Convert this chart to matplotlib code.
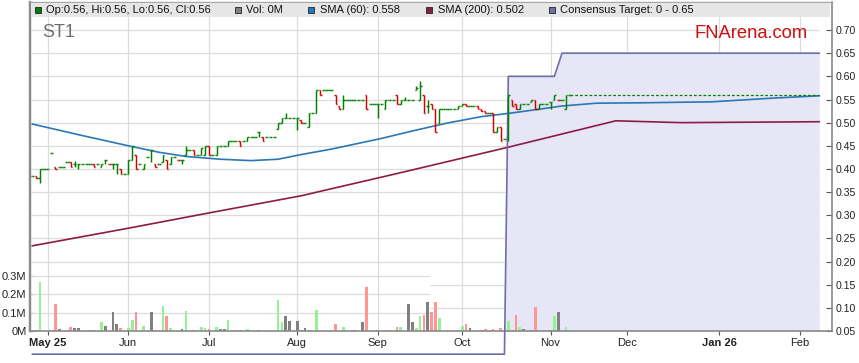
import numpy as np
import pandas as pd
import matplotlib
matplotlib.use('Agg')
import matplotlib.pyplot as plt
from matplotlib.collections import LineCollection
from matplotlib.patches import Rectangle

plt.rcParams['font.family'] = ['Liberation Sans', 'DejaVu Sans']

# ------------------------------------------------------------------ data
ticker = 'ST1'
brand = 'FNArena.com'
first_bar = '2025-04-28'
last_bar = '2025-11-10'
axis_origin = '2025-05-01'
projection_end = '2026-02-09'

opens = [
    .385, .385, .38, .40, .40, .435, .405, .405, .405, .415,
    .415, .41, .41, .41, .41, .41, .41, .41, .405, .42,
    .41, .41, .41, .40, .39, .39, .42, .43, .41, .40,
    .425, .44, .41, .41, .415, .42, .41, .425, .42, .42,
    .43, .44, .44, .43, .43, .43, .45, .43, .43, .45,
    .45, .45, .46, .46, .46, .46, .46, .47, .47, .48,
    .47, .47, .47, .47, .486, .50, .51, .51, .51, .51,
    .505, .50, .49, .52, .52, .57, .57, .57, .57, .56,
    .535, .53, .55, .55, .55, .55, .55, .56, .54, .54,
    .54, .54, .53, .55, .55, .56, .54, .55, .55, .55,
    .57, .55, .56, .535, .54, .53, .50, .53, .53, .53,
    .53, .53, .535, .54, .535, .535, .535, .53, .525, .52,
    .52, .48, .49, .465, .47, .55, .54, .53, .54, .54,
    .545, .55, .53, .54, .54, .545, .55, .55, .55, .53, .56,
]
highs = [
    .385, .385, .40, .40, .40, .435, .405, .405, .405, .415,
    .415, .418, .41, .41, .41, .41, .41, .41, .41, .42,
    .41, .41, .41, .40, .39, .42, .45, .43, .41, .41,
    .425, .44, .41, .41, .43, .42, .425, .425, .42, .42,
    .45, .44, .44, .43, .445, .45, .45, .43, .45, .45,
    .45, .46, .46, .46, .46, .46, .47, .47, .47, .48,
    .47, .47, .47, .47, .50, .51, .52, .51, .51, .51,
    .505, .50, .52, .52, .57, .57, .57, .57, .57, .56,
    .535, .56, .55, .55, .55, .55, .55, .56, .54, .54,
    .54, .54, .55, .55, .55, .56, .55, .555, .55, .55,
    .58, .59, .56, .55, .54, .53, .53, .53, .53, .53,
    .53, .535, .54, .54, .535, .535, .535, .53, .525, .52,
    .52, .49, .49, .465, .56, .55, .54, .54, .54, .54,
    .55, .55, .54, .54, .54, .545, .56, .55, .55, .56, .56,
]
lows = [
    .385, .38, .37, .40, .40, .435, .40, .405, .405, .415,
    .405, .405, .40, .41, .41, .41, .405, .41, .405, .41,
    .41, .40, .39, .39, .39, .39, .42, .40, .41, .40,
    .425, .415, .405, .41, .415, .40, .41, .425, .42, .41,
    .43, .44, .43, .43, .43, .43, .43, .43, .43, .45,
    .45, .45, .46, .46, .45, .46, .46, .47, .47, .47,
    .46, .47, .47, .47, .486, .50, .51, .51, .51, .485,
    .50, .50, .49, .52, .52, .56, .57, .57, .57, .54,
    .53, .53, .55, .55, .55, .55, .55, .53, .54, .54,
    .51, .54, .53, .55, .55, .54, .54, .55, .55, .55,
    .57, .55, .52, .52, .53, .48, .50, .53, .53, .53,
    .53, .53, .535, .535, .535, .535, .53, .525, .52, .52,
    .48, .48, .46, .465, .46, .535, .53, .53, .54, .54,
    .545, .53, .53, .54, .54, .53, .55, .55, .55, .53, .56,
]
closes = [
    .385, .38, .40, .40, .40, .435, .40, .405, .405, .415,
    .405, .41, .41, .41, .41, .41, .405, .41, .41, .42,
    .41, .41, .41, .39, .39, .42, .45, .40, .41, .41,
    .425, .44, .405, .41, .43, .40, .425, .425, .42, .42,
    .44, .44, .43, .43, .445, .45, .43, .43, .45, .45,
    .45, .46, .46, .46, .45, .46, .47, .47, .47, .48,
    .46, .47, .47, .47, .50, .51, .51, .51, .51, .51,
    .50, .50, .52, .52, .57, .56, .57, .57, .57, .54,
    .53, .55, .55, .55, .55, .55, .55, .53, .54, .54,
    .54, .54, .55, .55, .55, .54, .55, .55, .55, .55,
    .575, .58, .52, .535, .53, .48, .53, .53, .53, .53,
    .53, .535, .54, .535, .535, .535, .53, .525, .52, .52,
    .48, .49, .46, .465, .56, .535, .53, .54, .54, .54,
    .55, .53, .54, .54, .54, .545, .56, .55, .55, .56, .56,
]
volumes_m = [
    0, .005, .27, 0, 0, 0, .15, .01, 0, 0,
    .02, .015, .015, 0, 0, .005, .005, 0, .05, .03,
    0, .105, .037, .015, 0, .015, .058, .104, 0, .03,
    0, .104, .005, 0, .136, .08, .015, 0, 0, .01,
    .107, 0, .005, 0, .02, .015, .01, 0, .024, .01,
    .01, .058, 0, 0, .005, 0, .01, 0, 0, .005,
    0, 0, 0, 0, .167, .05, .08, .053, 0, .053,
    .005, .015, .005, 0, .113, 0, 0, 0, 0, .037,
    0, .02, 0, 0, .005, 0, .05, .238, 0, 0,
    .005, 0, .005, 0, 0, .02, .02, 0, .145, .05,
    .015, .08, .085, .16, .104, .16, .07, 0, 0, 0,
    0, .005, .025, .04, .015, 0, 0, .005, .01, 0,
    .01, 0, .015, 0, .053, .005, .085, .02, .01, 0,
    .005, .13, 0, 0, 0, .005, .08, .104, 0, .02, 0,
]

sma60_dates = ['2025-04-28', '2025-05-14', '2025-06-02', '2025-06-12', '2025-06-23',
               '2025-07-04', '2025-07-16', '2025-07-25', '2025-08-04', '2025-08-14',
               '2025-09-02', '2025-09-12', '2025-09-25', '2025-10-08', '2025-10-20',
               '2025-10-29', '2025-11-06', '2025-11-19', '2025-12-08', '2025-12-31',
               '2026-01-22', '2026-02-09']
sma60_vals = [0.497, 0.474, 0.450, 0.436, 0.427,
              0.421, 0.418, 0.421, 0.431, 0.443,
              0.466, 0.482, 0.499, 0.513, 0.521,
              0.529, 0.536, 0.542, 0.543, 0.545,
              0.553, 0.558]

sma200_dates = ['2025-04-28', '2025-06-02', '2025-07-01', '2025-08-04', '2025-09-09',
                '2025-10-17', '2025-11-26', '2025-12-19', '2026-02-09']
sma200_vals = [0.234, 0.272, 0.305, 0.342, 0.392,
               0.447, 0.504, 0.500, 0.502]

target_dates = ['2025-04-28', '2025-10-16', '2025-10-17', '2025-11-04', '2025-11-06', '2026-02-09']
target_vals = [0.0, 0.0, 0.60, 0.60, 0.65, 0.65]

month_tick_dates = ['2025-05-02', '2025-06-02', '2025-07-01', '2025-08-01', '2025-09-01',
                    '2025-10-01', '2025-11-03', '2025-12-01', '2026-01-02', '2026-02-02']
month_tick_labels = ['May 25', 'Jun', 'Jul', 'Aug', 'Sep', 'Oct', 'Nov', 'Dec', 'Jan 26', 'Feb']
bold_tick_labels = ['May 25', 'Jan 26']

price_ticks = [0.05, 0.10, 0.15, 0.20, 0.25, 0.30, 0.35, 0.40,
               0.45, 0.50, 0.55, 0.60, 0.65, 0.70]
volume_ticks = [0.0, 0.1, 0.2, 0.3]
volume_tick_labels = ['0M', '0.1M', '0.2M', '0.3M']

# ------------------------------------------------------------------ style
C_UP, C_DN = '#008000', '#d40000'
C_VUP, C_VDN, C_VFLAT = '#94f294', '#ff9696', '#808080'
C_SMA60, C_SMA200 = '#2a78b8', '#8c1c48'
C_TGT_LINE, C_TGT_FILL = '#6e6ea8', '#e6e6f6'
C_GRID = '#dcdcdc'
C_SPINE = '#8a8a8a'

W, H = 859, 363
price_floor = 0.05
px_per_price = 23.15 / 0.05          # vertical pixel scale of the price axis
vol_scale = 183.3 / px_per_price     # price units per million shares


def tday(d):
    return np.busday_count(np.datetime64(axis_origin),
                           np.asarray(d, dtype='datetime64[D]'))


def to_price(v):
    return price_floor + np.asarray(v) * vol_scale


def to_vol(p):
    return (np.asarray(p) - price_floor) / vol_scale


def fr(x0, y0, x1, y1):
    return [x0 / W, 1 - y1 / H, (x1 - x0) / W, (y1 - y0) / H]


bar_dates = pd.bdate_range(first_bar, last_bar).values.astype('datetime64[D]')
x = tday(bar_dates)
O, Hh, L, C, V = map(np.asarray, (opens, highs, lows, closes, volumes_m))
assert len(x) == len(O) == len(Hh) == len(L) == len(C) == len(V)

x_end = tday(projection_end)

fig = plt.figure(figsize=(W / 100, H / 100), dpi=100)
fig.patch.set_facecolor('white')

ax_left, ax_top, ax_right, ax_bottom = 30, 2, 832, 331
ax = fig.add_axes(fr(ax_left, ax_top, ax_right, ax_bottom))
ax.set_facecolor('white')

# x scale: 3.838 px per trading day, origin (axis_origin) at pixel 43.9
px_per_day = 3.838
x_lo = -(43.9 - ax_left) / px_per_day
x_hi = x_lo + (ax_right - ax_left) / px_per_day
ax.set_xlim(x_lo, x_hi)
ax.set_ylim(price_floor, price_floor + (ax_bottom - ax_top) / px_per_price)

# grid
grid_split = x_lo + (430 - ax_left) / px_per_day
for p in price_ticks[1:]:
    if p >= 0.20:
        ax.hlines(p, x_lo, x_end, color=C_GRID, lw=0.9, zorder=0.5)
    else:
        ax.hlines(p, grid_split, x_end, color=C_GRID, lw=0.9, zorder=0.5)
for v in volume_ticks[1:]:
    ax.hlines(to_price(v), x_lo, grid_split, color=C_GRID, lw=0.9, zorder=0.5)
mt = tday(month_tick_dates)
ax.vlines(mt, price_floor, 0.80, color=C_GRID, lw=0.9, zorder=0.5)

# consensus target
tx = tday(target_dates)
ax.fill_between(tx, 0, target_vals, color=C_TGT_FILL, lw=0, zorder=1)
ax.plot(tx, target_vals, color=C_TGT_LINE, lw=1.2, zorder=3.5, clip_on=False)

# volume
vcols = [C_VUP if c > o else (C_VDN if c < o else C_VFLAT) for o, c in zip(O, C)]
ax.bar(x, to_price(V) - price_floor, bottom=price_floor, width=0.7,
       color=vcols, lw=0, zorder=2)

# moving averages
ax.plot(tday(sma60_dates), sma60_vals, color=C_SMA60, lw=1.2, zorder=3)
ax.plot(tday(sma200_dates), sma200_vals, color=C_SMA200, lw=1.2, zorder=3)

# OHLC bars
prev = np.concatenate([[O[0]], C[:-1]])
tw = 0.42
segs, cols = [], []
for xi, o, h, l, c, pc in zip(x, O, Hh, L, C, prev):
    col = C_UP if c >= pc else C_DN
    segs += [[(xi, l), (xi, h)], [(xi - tw, o), (xi, o)], [(xi, c), (xi + tw, c)]]
    cols += [col] * 3
ax.add_collection(LineCollection(segs, colors=cols, linewidths=1.05,
                                 capstyle='butt', zorder=4))

# last price projection
ax.hlines(C[-1], x[-1], x_end, colors=C_UP, lw=0.9,
          linestyles=(0, (2.2, 1.6)), zorder=4)

# axes styling
for s in ('left', 'right', 'bottom', 'top'):
    ax.spines[s].set_color(C_SPINE)
ax.spines['left'].set_linewidth(1.6)
ax.spines['right'].set_linewidth(1.2)
ax.spines['bottom'].set_linewidth(1.2)
ax.spines['top'].set_linewidth(1.0)
ax.spines['top'].set_color('#a8a8a8')

ax.yaxis.tick_right()
ax.set_yticks(price_ticks, labels=[f'{p:.2f}' for p in price_ticks])
ax.tick_params(axis='y', direction='in', length=4, width=0.8, color='#555555',
               labelsize=7.6, labelcolor='#222222', pad=2.5)
ax.set_xticks(mt, labels=month_tick_labels)
ax.tick_params(axis='x', direction='out', length=3, width=0.8, color='#555555',
               labelsize=8, labelcolor='#222222', pad=2)
for t in ax.get_xticklabels():
    if t.get_text() in bold_tick_labels:
        t.set_fontweight('bold')

secax = ax.secondary_yaxis('left', functions=(to_vol, to_price))
secax.set_yticks(volume_ticks, labels=volume_tick_labels)
secax.tick_params(direction='in', length=3, width=0.8, color='#555555',
                  labelsize=8, labelcolor='#222222', pad=2.5)
secax.spines['left'].set_color(C_SPINE)
secax.spines['left'].set_linewidth(1.6)

# header band + legend
fig.patches.append(Rectangle((31 / W, 1 - 17 / H), (830 - 31) / W, 14 / H,
                             transform=fig.transFigure, facecolor='#e6e6e6',
                             edgecolor='none', zorder=5))
legend_items = [
    (C_UP, f'Op:{O[-1]:.2f}, Hi:{Hh[-1]:.2f}, Lo:{L[-1]:.2f}, Cl:{C[-1]:.2f}', 35),
    (C_VFLAT, f'Vol: {V[-1]:.0f}M', 235),
    (C_SMA60, f'SMA (60): {sma60_vals[-1]:.3f}', 308),
    (C_SMA200, f'SMA (200): {sma200_vals[-1]:.3f}', 426),
    (C_TGT_LINE, f'Consensus Target: {min(target_vals):g} - {max(target_vals):.2f}', 549),
]
for col, txt, px in legend_items:
    fig.patches.append(Rectangle((px / W, 1 - 13.3 / H), 6 / W, 6 / H,
                                 transform=fig.transFigure, facecolor=col,
                                 edgecolor='#222222', lw=0.6, zorder=6))
    fig.text((px + 11.5) / W, 1 - 10.3 / H, txt, fontsize=8, color='#111111',
             va='center', ha='left', zorder=7)

fig.text(42.5 / W, 1 - 32.5 / H, ticker, fontsize=13, color='#6e6e6e',
         va='center', ha='left')
fig.text(695 / W, 1 - 33.5 / H, brand, fontsize=13.2, color='#cc1111',
         va='center', ha='left')

fig.savefig('out.png', dpi=100, facecolor='white')
